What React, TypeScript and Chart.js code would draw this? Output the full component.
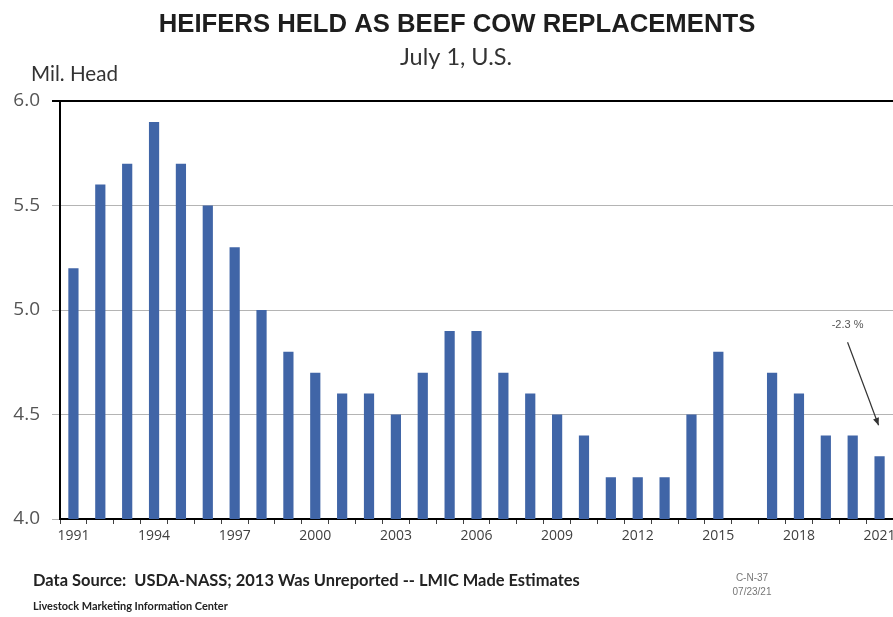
import React, { useEffect, useRef } from "react";
import { Chart, registerables } from "chart.js";

Chart.register(...registerables);

const years = [
  "1991", "1992", "1993", "1994", "1995", "1996", "1997", "1998", "1999", "2000",
  "2001", "2002", "2003", "2004", "2005", "2006", "2007", "2008", "2009", "2010",
  "2011", "2012", "2013", "2014", "2015", "2016", "2017", "2018", "2019", "2020", "2021",
];
const heifers: (number | null)[] = [
  5.2, 5.6, 5.7, 5.9, 5.7, 5.5, 5.3, 5.0, 4.8, 4.7,
  4.6, 4.6, 4.5, 4.7, 4.9, 4.9, 4.7, 4.6, 4.5, 4.4,
  4.2, 4.2, 4.2, 4.5, 4.8, null, 4.7, 4.6, 4.4, 4.4, 4.3,
];
const yTicks = [4.0, 4.5, 5.0, 5.5, 6.0];
const titleText = "HEIFERS HELD AS BEEF COW REPLACEMENTS";
const subtitleText = "July 1, U.S.";
const yAxisTitle = "Mil. Head";
const sourceText = "Data Source:  USDA-NASS; 2013 Was Unreported -- LMIC Made Estimates";
const orgText = "Livestock Marketing Information Center";
const codeText = ["C-N-37", "07/23/21"];
const changeText = "-2.3 %";

function fitText(
  ctx: CanvasRenderingContext2D,
  text: string,
  x: number,
  y: number,
  width: number,
  font: (s: number) => string,
  align: CanvasTextAlign
) {
  ctx.font = font(20);
  const w = ctx.measureText(text).width;
  const size = (20 * width) / w;
  ctx.font = font(size);
  ctx.textAlign = align;
  ctx.fillText(text, x, y);
}

const textPlugin = {
  id: "texts",
  afterDraw(chart: any) {
    const ctx = chart.ctx as CanvasRenderingContext2D;
    ctx.save();
    ctx.textBaseline = "middle";
    // title
    ctx.fillStyle = "#1e1e1e";
    fitText(ctx, titleText, 457, 25, 597, (s) => `bold ${s}px 'Liberation Sans', Arial, sans-serif`, "center");
    ctx.fillStyle = "#333";
    fitText(ctx, subtitleText, 456, 57, 112, (s) => `${s}px Lato, 'Open Sans', sans-serif`, "center");
    // axis title
    ctx.fillStyle = "#333";
    fitText(ctx, yAxisTitle, 31, 74, 87, (s) => `${s}px Lato, 'Open Sans', sans-serif`, "left");
    // footer
    ctx.fillStyle = "#222";
    fitText(ctx, sourceText, 33, 581, 547, (s) => `bold ${s}px Lato, 'Open Sans', sans-serif`, "left");
    fitText(ctx, orgText, 33, 606, 195, (s) => `bold ${s}px Lato, 'Open Sans', sans-serif`, "left");
    ctx.textAlign = "center";
    ctx.fillStyle = "#777";
    ctx.font = "10px 'Liberation Sans Narrow', 'Liberation Sans', sans-serif";
    ctx.fillText(codeText[0], 752, 578);
    ctx.fillText(codeText[1], 752, 592);
    // annotation
    const xs = chart.scales.x;
    const ys = chart.scales.y;
    const last = years.length - 1;
    const bx = xs.getPixelForValue(last);
    const by = ys.getPixelForValue(heifers[last] as number);
    ctx.fillStyle = "#555";
    ctx.font = "11px 'Liberation Sans', Arial, sans-serif";
    ctx.fillText(changeText, bx - 32, by - 131);
    const x0 = bx - 32, y0 = by - 114, x1 = bx - 1, y1 = by - 31;
    ctx.strokeStyle = "#333";
    ctx.lineWidth = 1.2;
    ctx.beginPath();
    ctx.moveTo(x0, y0);
    ctx.lineTo(x1, y1);
    ctx.stroke();
    const ang = Math.atan2(y1 - y0, x1 - x0);
    const hl = 8;
    ctx.fillStyle = "#333";
    ctx.beginPath();
    ctx.moveTo(x1, y1);
    ctx.lineTo(x1 - hl * Math.cos(ang - 0.4), y1 - hl * Math.sin(ang - 0.4));
    ctx.lineTo(x1 - hl * Math.cos(ang + 0.4), y1 - hl * Math.sin(ang + 0.4));
    ctx.closePath();
    ctx.fill();
    ctx.restore();
  },
};

export default function App() {
  const ref = useRef<HTMLCanvasElement | null>(null);
  useEffect(() => {
    if (!ref.current) return;
    const chart = new Chart(ref.current, {
      type: "bar",
      data: {
        labels: years,
        datasets: [
          {
            data: heifers as any,
            backgroundColor: "#4065a7",
            borderWidth: 0,
            barPercentage: 0.38,
            categoryPercentage: 1,
          },
        ],
      },
      options: {
        responsive: false,
        animation: false,
        devicePixelRatio: 1,
        layout: { padding: { top: 101, left: 8, right: 0, bottom: 0 } },
        plugins: {
          legend: { display: false },
          tooltip: { enabled: false },
          title: { display: false },
        },
        scales: {
          x: {
            grid: {
              offset: true,
              drawOnChartArea: false,
              drawTicks: true,
              tickLength: 5,
              color: "#404040",
            },
            border: { color: "#000", width: 2 },
            ticks: {
              autoSkip: false,
              maxRotation: 0,
              minRotation: 0,
              padding: 4,
              color: "#404040",
              font: { family: "'Liberation Sans Narrow', 'Open Sans', sans-serif", size: 14 },
              callback: (_v: any, i: number) => (i % 3 === 0 ? years[i] : ""),
            },
            afterFit: (s: any) => {
              s.height = 98;
              s.paddingLeft = 0;
              s.paddingRight = 0;
            },
          },
          y: {
            min: yTicks[0],
            max: yTicks[yTicks.length - 1],
            afterBuildTicks: (s: any) => {
              s.ticks = yTicks.map((v) => ({ value: v }));
            },
            ticks: {
              padding: 12,
              color: "#555",
              font: { family: "'Open Sans', sans-serif", size: 19 },
              callback: (v: any) => Number(v).toFixed(1),
            },
            grid: {
              drawTicks: true,
              tickLength: 8,
              color: (c: any) => (c.tick && c.tick.value === 6 ? "#000" : "#b4b4b4"),
              lineWidth: (c: any) => (c.tick && c.tick.value === 6 ? 2 : 1),
            },
            border: { color: "#000", width: 2 },
            afterFit: (s: any) => {
              s.width = 52;
            },
          },
        },
      },
      plugins: [textPlugin],
    });
    return () => chart.destroy();
  }, []);
  return (
    <div style={{ position: "fixed", left: 0, top: 0, width: 893, height: 617, background: "#fff" }}>
      <canvas ref={ref} width={893} height={617} />
    </div>
  );
}
